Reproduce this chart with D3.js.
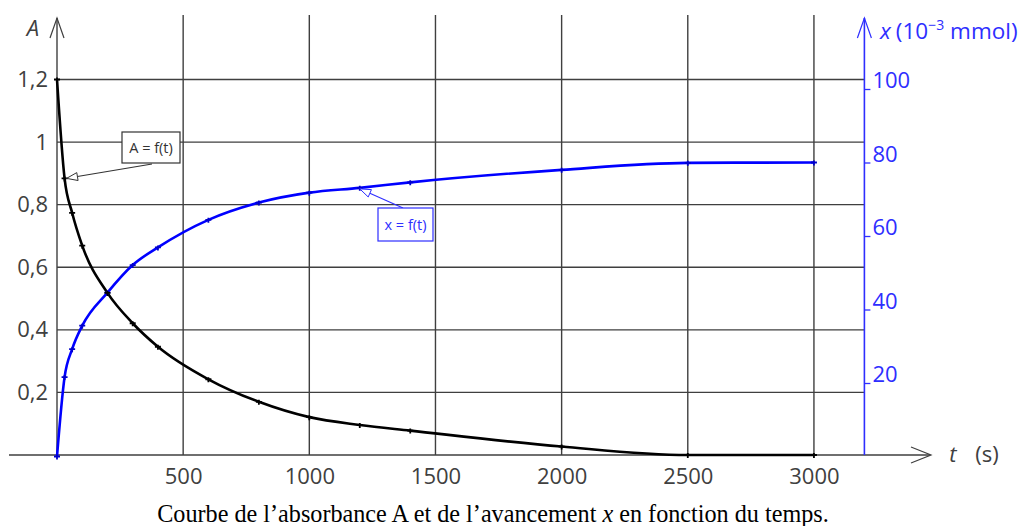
<!DOCTYPE html>
<html>
<head>
<meta charset="utf-8">
<script src="https://cdn.jsdelivr.net/npm/d3@7"></script>
<style>
  html, body { margin: 0; padding: 0; background: #fff; }
  svg { display: block; }
</style>
</head>
<body>
<svg id="chart" width="1029" height="526"></svg>
<script>
// ---- data ----
const times = [0, 30, 60, 100, 200, 300, 400, 600, 800, 1000, 1200, 1400, 2000, 2500, 3000];
const absorbance = [1.2, 0.884, 0.774, 0.669, 0.518, 0.421, 0.346, 0.242, 0.170, 0.121, 0.096, 0.078, 0.027, 0, 0];
const avancement = [0, 21.6, 29.2, 35.6, 44.6, 52.1, 56.9, 64.4, 69.1, 71.8, 73.1, 74.6, 78.0, 79.9, 80.0];
const tTicks = [500, 1000, 1500, 2000, 2500, 3000];
const aTicks = [0.2, 0.4, 0.6, 0.8, 1, 1.2];
const xTicks = [20, 40, 60, 80, 100];

const svg = d3.select("#chart");
const GRID = "#3f3f3f", TXT = "#404040", BLUE = "#2e2eff";

const x = d3.scaleLinear().domain([0, 3200]).range([57, 864.4]);
const yA = d3.scaleLinear().domain([0, 1.2]).range([455, 79.5]);
const yX = d3.scaleLinear().domain([0, 100]).range([456.5, 89]);
const gridTop = 15;

// grid
svg.append("g").selectAll("line").data(aTicks).join("line")
  .attr("x1", x(0)).attr("x2", x(3200))
  .attr("y1", d => yA(d)).attr("y2", d => yA(d))
  .attr("stroke", GRID).attr("stroke-width", 1.4);
svg.append("g").selectAll("line").data(tTicks).join("line")
  .attr("x1", d => x(d)).attr("x2", d => x(d))
  .attr("y1", gridTop).attr("y2", yA(0))
  .attr("stroke", GRID).attr("stroke-width", 1.4);

// baseline with arrow
svg.append("line").attr("x1", 9).attr("x2", 930).attr("y1", yA(0)).attr("y2", yA(0))
  .attr("stroke", GRID).attr("stroke-width", 1.4);
svg.append("path").attr("d", `M911,${yA(0) - 8}L931,${yA(0)}L911,${yA(0) + 8}`)
  .attr("fill", "none").attr("stroke", GRID).attr("stroke-width", 1.2);

// left axis line + arrow
svg.append("line").attr("x1", x(0)).attr("x2", x(0)).attr("y1", 18).attr("y2", yA(0))
  .attr("stroke", GRID).attr("stroke-width", 1.4);
svg.append("path").attr("d", `M${x(0) - 7},38L${x(0)},18L${x(0) + 7},38`)
  .attr("fill", "none").attr("stroke", GRID).attr("stroke-width", 1.2);

// right axis line + arrow
svg.append("line").attr("x1", x(3200)).attr("x2", x(3200)).attr("y1", 18).attr("y2", yA(0))
  .attr("stroke", BLUE).attr("stroke-width", 1.6);
svg.append("path").attr("d", `M${x(3200) - 7},38L${x(3200)},18L${x(3200) + 7},38`)
  .attr("fill", "none").attr("stroke", BLUE).attr("stroke-width", 1.2);

// axes (labels)
const fmtA = d => String(d).replace(".", ",");
const gL = svg.append("g").attr("transform", `translate(${x(0)},0)`)
  .call(d3.axisLeft(yA).tickValues(aTicks).tickSize(0).tickPadding(9).tickFormat(fmtA));
gL.select(".domain").remove();
gL.selectAll("text").attr("font-family", "Open Sans").attr("font-size", 22).attr("fill", TXT);

const gB = svg.append("g").attr("transform", `translate(0,${yA(0)})`)
  .call(d3.axisBottom(x).tickValues(tTicks).tickSize(0).tickPadding(13).tickFormat(d3.format("d")));
gB.select(".domain").remove();
gB.selectAll("text").attr("font-family", "Open Sans").attr("font-size", 22).attr("fill", TXT);

const gR = svg.append("g").attr("transform", `translate(${x(3200)},0)`)
  .call(d3.axisRight(yX).tickValues(xTicks).tickSize(6).tickPadding(2));
gR.select(".domain").remove();
gR.selectAll("line").attr("stroke", BLUE).attr("stroke-width", 1.3);
gR.selectAll("text").attr("font-family", "Open Sans").attr("font-size", 22).attr("fill", BLUE)
  .attr("dy", "-0.05em");

// axis titles
svg.append("text").attr("x", 33).attr("y", 36).attr("text-anchor", "middle")
  .attr("font-family", "Open Sans").attr("font-style", "italic").attr("font-size", 22)
  .attr("fill", TXT).text("A");
svg.append("text").attr("x", 953).attr("y", 462).attr("text-anchor", "middle")
  .attr("font-family", "Open Sans").attr("font-style", "italic").attr("font-size", 22)
  .attr("fill", TXT).text("t");
svg.append("text").attr("x", 987).attr("y", 462).attr("text-anchor", "middle")
  .attr("font-family", "Open Sans").attr("font-size", 22).attr("fill", TXT).text("(s)");

const rt = svg.append("text").attr("x", 880).attr("y", 39)
  .attr("font-family", "Open Sans").attr("font-size", 22.5).attr("fill", BLUE);
rt.append("tspan").attr("font-style", "italic").text("x");
rt.append("tspan").attr("dx", 5).text("(10");
rt.append("tspan").attr("font-size", 14).attr("dy", -9).text("−3");
rt.append("tspan").attr("dy", 9).text(" mmol)");

// curves
const ptsA = times.map((t, i) => [t, absorbance[i]]);
const ptsX = times.map((t, i) => [t, avancement[i]]);
const lineA = d3.line().x(d => x(d[0])).y(d => yA(d[1])).curve(d3.curveMonotoneX);
const lineX = d3.line().x(d => x(d[0])).y(d => yX(d[1])).curve(d3.curveMonotoneX);

svg.append("path").attr("d", lineX(ptsX)).attr("fill", "none")
  .attr("stroke", "#0000ff").attr("stroke-width", 2.6);
svg.append("path").attr("d", lineA(ptsA)).attr("fill", "none")
  .attr("stroke", "#000").attr("stroke-width", 2.6);

// markers
function markers(pts, ys, col) {
  svg.append("g").selectAll("path").data(pts).join("path")
    .attr("d", d => `M${x(d[0]) - 3},${ys(d[1])}h6M${x(d[0])},${ys(d[1]) - 2}v5`)
    .attr("stroke", col).attr("stroke-width", 1.8).attr("fill", "none");
}
markers(ptsX, yX, "#0000cc");
markers(ptsA, yA, "#000");

// annotations
function note(label, tipX, tipY, bx, by, bw, bh, ax, ay, col, txtCol) {
  const g = svg.append("g");
  const ang = Math.atan2(tipY - ay, tipX - ax);
  const L = 11, W = 4;
  const baseX = tipX - L * Math.cos(ang), baseY = tipY - L * Math.sin(ang);
  g.append("line").attr("x1", ax).attr("y1", ay).attr("x2", baseX).attr("y2", baseY)
    .attr("stroke", col).attr("stroke-width", 1.1);
  g.append("path").attr("d",
    `M${tipX},${tipY}L${baseX - W * Math.sin(ang)},${baseY + W * Math.cos(ang)}L${baseX + W * Math.sin(ang)},${baseY - W * Math.cos(ang)}Z`)
    .attr("fill", "#fff").attr("stroke", col).attr("stroke-width", 1);
  g.append("rect").attr("x", bx).attr("y", by).attr("width", bw).attr("height", bh)
    .attr("fill", "#fff").attr("stroke", col).attr("stroke-width", 1.2);
  g.append("text").attr("x", bx + bw / 2).attr("y", by + bh / 2 + 5).attr("text-anchor", "middle")
    .attr("font-family", "Open Sans").attr("font-size", 14.5).attr("fill", txtCol).text(label);
}
const pA = ptsA[1], pX = ptsX[10];
note("A = f(t)", x(pA[0]) + 2, yA(pA[1]), 122, 132, 58, 31, 152, 164, "#333", "#333");
note("x = f(t)", x(pX[0]), yX(pX[1]) + 1, 378, 208, 55, 33, 403, 208, BLUE, BLUE);

// caption
const cap = svg.append("text").attr("x", 493).attr("y", 522).attr("text-anchor", "middle")
  .attr("font-family", "Liberation Serif").attr("font-size", 24.2).attr("fill", "#000");
cap.append("tspan").text("Courbe de l’absorbance A et de l’avancement ");
cap.append("tspan").attr("font-style", "italic").text("x");
cap.append("tspan").text(" en fonction du temps.");
</script>
</body>
</html>
